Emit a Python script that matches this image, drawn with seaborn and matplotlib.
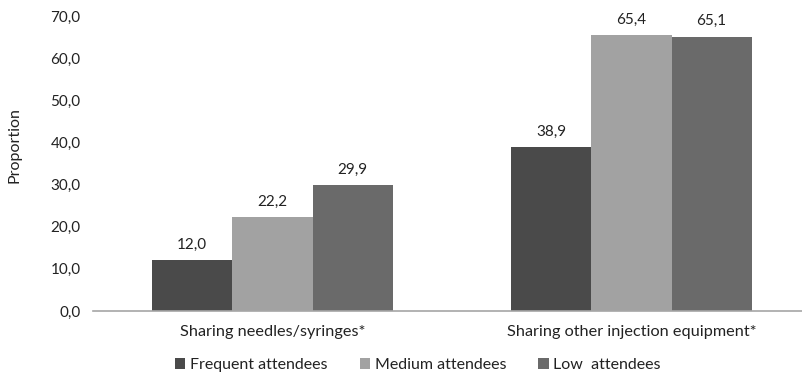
import matplotlib
matplotlib.use("Agg")
import matplotlib.pyplot as plt
import seaborn as sns
import pandas as pd

categories = ["Sharing needles/syringes*", "Sharing other injection equipment*"]
groups = ["Frequent attendees", "Medium attendees", "Low  attendees"]
frequent = [12.0, 38.9]
medium = [22.2, 65.4]
low = [29.9, 65.1]
yticks = [0, 10, 20, 30, 40, 50, 60, 70]
colors = ["#4a4a4a", "#a2a2a2", "#6a6a6a"]

sns.set_style("white")
plt.rcParams["font.family"] = ["Lato", "DejaVu Sans"]

rows = []
for g, vals in zip(groups, [frequent, medium, low]):
    for c, v in zip(categories, vals):
        rows.append({"category": c, "group": g, "value": v})
df = pd.DataFrame(rows)

fig = plt.figure(figsize=(8.02, 3.72), dpi=100)
ax = fig.add_axes([93 / 802, 61 / 372, 718 / 802, 295 / 372])

sns.barplot(data=df, x="category", y="value", hue="group", order=categories,
            hue_order=groups, palette=colors, width=0.67, saturation=1,
            edgecolor="none", linewidth=0, ax=ax)

for cont in ax.containers:
    vals = [b.get_height() for b in cont]
    ax.bar_label(cont, labels=[f"{v:.1f}".replace(".", ",") for v in vals],
                 padding=6, fontsize=11, color="#222222")

ax.set_xlim(-0.5, 1.5)
ax.set_ylim(0, 70)
ax.set_yticks(yticks)
ax.set_yticklabels([f"{t:.1f}".replace(".", ",") for t in yticks],
                   fontsize=11, color="#222222")
ax.tick_params(axis="y", length=0, pad=9)
ax.tick_params(axis="x", length=0, pad=10, labelsize=11.7, labelcolor="#222222")
ax.set_xlabel("")
ax.set_ylabel("")
fig.text(15 / 802, 1 - 145 / 372, "Proportion", rotation=90, ha="center",
         va="center", fontsize=11.5, color="#222222")

for side in ["left", "right", "top"]:
    ax.spines[side].set_visible(False)
ax.spines["bottom"].set_color("#a6a6a6")
ax.spines["bottom"].set_linewidth(1.2)
ax.grid(False)

handles, labels = ax.get_legend_handles_labels()
ax.legend(handles, labels, loc="center left",
          bbox_to_anchor=(175 / 802, 1 - 365 / 372),
          bbox_transform=fig.transFigure,
          ncol=3, frameon=False, fontsize=11.5, handlelength=0.65,
          handleheight=0.65, handletextpad=0.3, columnspacing=2.0,
          borderaxespad=0, borderpad=0, labelcolor="#222222")

fig.savefig("out.png", dpi=100)
